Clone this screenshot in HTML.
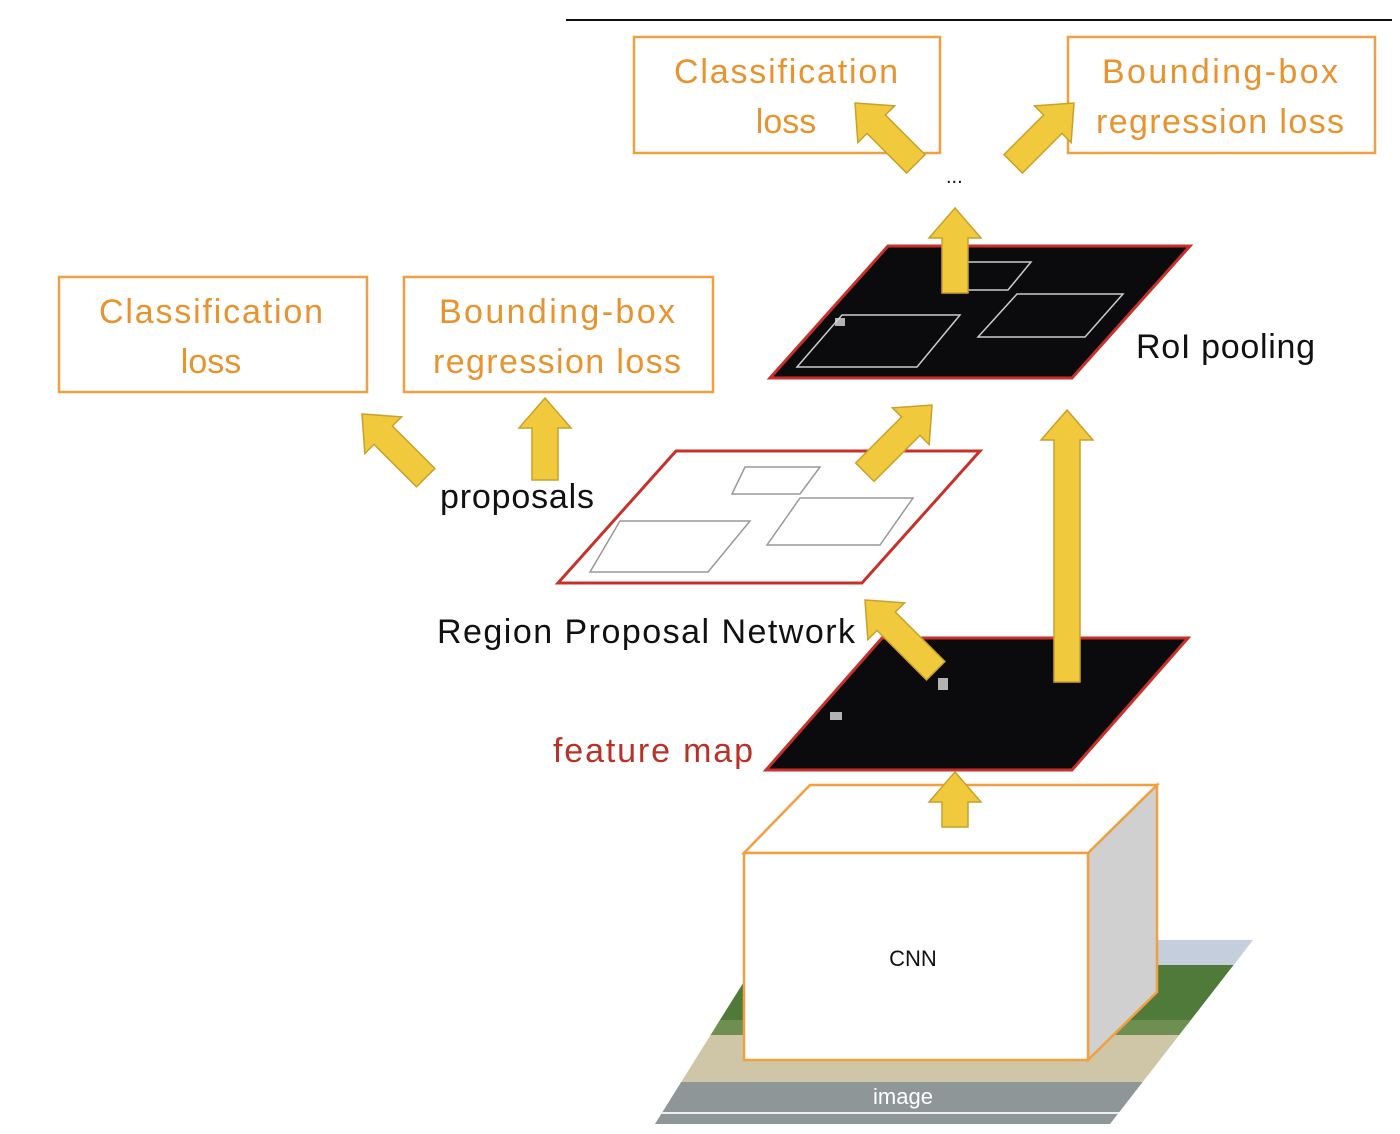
<!DOCTYPE html>
<html><head><meta charset="utf-8"><style>body{margin:0;background:#fff}svg{display:block}</style></head><body>
<svg width="1400" height="1134" viewBox="0 0 1400 1134" xmlns="http://www.w3.org/2000/svg" font-family="Liberation Sans, sans-serif">
<defs>
<clipPath id="imgclip"><polygon points="655,1124 770,940 1253,940 1110,1124"/></clipPath>
</defs>
<line x1="566" y1="20" x2="1392" y2="20" stroke="#111" stroke-width="2"/>
<g fill="none" stroke="#f0a040" stroke-width="2.5">
<rect x="634" y="37" width="306" height="116"/>
<rect x="1068" y="37" width="307" height="116"/>
<rect x="59" y="277" width="308" height="115"/>
<rect x="404" y="277" width="309" height="115"/>
</g>
<g fill="#e8932e" font-size="34" text-anchor="middle">
<text x="786" y="83" textLength="224">Classification</text>
<text x="786" y="133">loss</text>
<text x="1220" y="83" textLength="236">Bounding-box</text>
<text x="1220" y="133" textLength="248">regression loss</text>
<text x="211" y="323" textLength="224">Classification</text>
<text x="211" y="373">loss</text>
<text x="557" y="323" textLength="236">Bounding-box</text>
<text x="557" y="373" textLength="248">regression loss</text>
</g>
<g clip-path="url(#imgclip)">
<rect x="640" y="930" width="640" height="200" fill="#c4cedc"/>
<rect x="640" y="965" width="640" height="60" fill="#4f7a3a"/>
<rect x="640" y="1020" width="640" height="15" fill="#6e8f50"/>
<rect x="640" y="1035" width="640" height="50" fill="#cfc6a8"/>
<rect x="640" y="1082" width="640" height="50" fill="#8f9698"/>
<line x1="640" y1="1113" x2="1280" y2="1113" stroke="#eee" stroke-width="2"/>
</g>
<text x="903" y="1104" font-size="22" fill="#fff" text-anchor="middle">image</text>
<polygon points="1088,853 1157,785 1157,992 1088,1060" fill="#d0d0d0" stroke="#f0a040" stroke-width="2.5"/>
<polygon points="744,853 810,785 1157,785 1088,853" fill="#fff" stroke="#f0a040" stroke-width="2.5"/>
<rect x="744" y="853" width="344" height="207" fill="#fff" stroke="#f0a040" stroke-width="2.5"/>
<text x="913" y="966" font-size="22" fill="#111" text-anchor="middle">CNN</text>
<polygon points="766,770 882,638 1188,638 1072,770" fill="#0b0b0d" stroke="#c8302a" stroke-width="3"/>
<rect x="938" y="678" width="10" height="12" fill="#ddd" opacity=".8"/>
<rect x="830" y="712" width="12" height="8" fill="#ddd" opacity=".8"/>
<text x="553" y="762" font-size="34" fill="#b83228" textLength="200">feature map</text>
<polygon points="558,583 676,451 980,451 862,583" fill="#fff" stroke="#c8302a" stroke-width="3"/>
<g fill="none" stroke="#999" stroke-width="1.5">
<polygon points="745,467 820,467 800,494 732,494"/>
<polygon points="800,498 913,498 880,545 767,545"/>
<polygon points="620,521 750,521 708,572 590,572"/>
</g>
<text x="440" y="508" font-size="34" fill="#111" textLength="154">proposals</text>
<text x="437" y="643" font-size="34" fill="#111" textLength="418">Region Proposal Network</text>
<polygon points="770,378 888,246 1190,246 1072,378" fill="#0b0b0d" stroke="#c8302a" stroke-width="3"/>
<g fill="none" stroke="#ccc" stroke-width="1.5">
<polygon points="968,262 1031,262 1008,290 943,290"/>
<polygon points="842,315 960,315 917,367 797,367"/>
<polygon points="1017,294 1123,294 1085,337 978,337"/>
</g>
<rect x="835" y="318" width="10" height="8" fill="#ddd" opacity=".8"/>
<text x="1136" y="358" font-size="34" fill="#111" textLength="179">RoI pooling</text>
<text x="946" y="183" font-size="20" fill="#111">...</text>
<g fill="#f0c93c" stroke="#c9a02a" stroke-width="1.5">
<path d="M0,0 L26,30 L13,30 L13,55 L-13,55 L-13,30 L-26,30 Z" transform="translate(955,772)"/>
<path d="M0,0 L26,30 L13,30 L13,272 L-13,272 L-13,30 L-26,30 Z" transform="translate(1067,410)"/>
<path d="M0,0 L26,30 L13,30 L13,85 L-13,85 L-13,30 L-26,30 Z" transform="translate(955,208)"/>
<path d="M0,0 L26,30 L13,30 L13,82 L-13,82 L-13,30 L-26,30 Z" transform="translate(545,398)"/>
<path d="M0,0 L26,30 L13,30 L13,100 L-13,100 L-13,30 L-26,30 Z" transform="translate(865,600) rotate(-45)"/>
<path d="M0,0 L26,30 L13,30 L13,95 L-13,95 L-13,30 L-26,30 Z" transform="translate(932,405) rotate(45)"/>
<path d="M0,0 L26,30 L13,30 L13,90 L-13,90 L-13,30 L-26,30 Z" transform="translate(362,414) rotate(-45)"/>
<path d="M0,0 L26,30 L13,30 L13,86 L-13,86 L-13,30 L-26,30 Z" transform="translate(855,103) rotate(-45)"/>
<path d="M0,0 L26,30 L13,30 L13,86 L-13,86 L-13,30 L-26,30 Z" transform="translate(1074,103) rotate(45)"/>
</g>
</svg>
</body></html>
